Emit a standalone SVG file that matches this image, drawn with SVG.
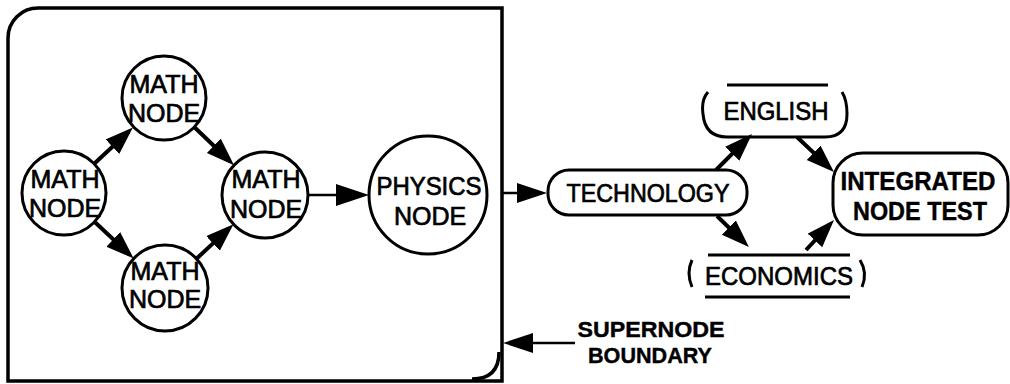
<svg xmlns="http://www.w3.org/2000/svg" width="1010" height="384" viewBox="0 0 1010 384">
  <style>
    .frame { fill: none; stroke: #000; stroke-width: 3.5; }
    .node { fill: #fff; stroke: #000; stroke-width: 3; }
    .open { fill: none; stroke: #000; stroke-width: 3; }
    .lbl { font-family: "Liberation Sans", Arial, Helvetica, sans-serif; font-size: 25px; fill: #000; stroke: #000; stroke-width: 0.7; text-anchor: middle; }
    .bold { font-weight: bold; stroke-width: 0.4; }
    .edge { fill: none; stroke: #000; stroke-width: 4; }
    .thin { fill: none; stroke: #000; stroke-width: 2.5; }
  </style>
  <defs>
    <marker id="head" markerUnits="userSpaceOnUse" markerWidth="30" markerHeight="22" refX="22" refY="10" orient="auto">
      <path d="M0,0 L28,10 L0,20 Z" fill="#000"/>
    </marker>
    <marker id="headLong" markerUnits="userSpaceOnUse" markerWidth="36" markerHeight="24" refX="27" refY="11" orient="auto">
      <path d="M0,0 L33,11 L0,22 Z" fill="#000"/>
    </marker>
    <marker id="headMid" markerUnits="userSpaceOnUse" markerWidth="32" markerHeight="22" refX="24" refY="10" orient="auto">
      <path d="M0,0 L30,10 L0,20 Z" fill="#000"/>
    </marker>
  </defs>

  <!-- supernode boundary frame -->
  <g id="supernode">
    <path class="frame" d="M8,381 L8,38 A30,30 0 0 1 38,8 L502,8 L502,381 Z"/>
    <path class="frame" d="M499,352 Q499,379 472,379"/>
  </g>

  <!-- connectors -->
  <g id="connectors">
    <path class="edge" d="M95,163 L128.5,131.7" marker-end="url(#head)"/>
    <path class="edge" d="M95.3,222.5 L129.3,254.4" marker-end="url(#head)"/>
    <path class="edge" d="M195,127.8 L229.7,161" marker-end="url(#head)"/>
    <path class="edge" d="M196.5,258.7 L229.1,228.4" marker-end="url(#head)"/>
    <path class="thin" d="M308,195 L363,195" marker-end="url(#headLong)"/>
    <path class="thin" d="M502,193 L541,193" marker-end="url(#headMid)"/>
    <path class="edge" d="M716,170 L747.8,138.2" marker-end="url(#head)"/>
    <path class="edge" d="M797,137 L829.6,167.9" marker-end="url(#head)"/>
    <path class="edge" d="M717,216 L744.6,242.9" marker-end="url(#head)"/>
    <path class="edge" d="M806,250 L829.9,224.4" marker-end="url(#head)"/>
    <path class="thin" d="M575,343 L509,343" marker-end="url(#headMid)"/>
  </g>

  <g id="math-left">
    <circle class="node" cx="64" cy="193" r="42"/>
    <text class="lbl" x="65" y="188">MATH</text>
    <text class="lbl" x="65" y="217">NODE</text>
  </g>
  <g id="math-top">
    <circle class="node" cx="164" cy="98" r="42"/>
    <text class="lbl" x="164" y="93">MATH</text>
    <text class="lbl" x="164" y="122">NODE</text>
  </g>
  <g id="math-bottom">
    <circle class="node" cx="165" cy="288" r="43"/>
    <text class="lbl" x="165" y="280">MATH</text>
    <text class="lbl" x="165" y="308">NODE</text>
  </g>
  <g id="math-right">
    <circle class="node" cx="265" cy="195" r="43"/>
    <text class="lbl" x="266" y="188">MATH</text>
    <text class="lbl" x="266" y="218">NODE</text>
  </g>
  <g id="physics">
    <circle class="node" cx="428" cy="195" r="59"/>
    <text class="lbl" x="429" y="195" textLength="105" lengthAdjust="spacingAndGlyphs">PHYSICS</text>
    <text class="lbl" x="430" y="225">NODE</text>
  </g>

  <g id="technology">
    <rect class="node" x="548" y="170" width="199" height="45" rx="21"/>
    <text class="lbl" x="648" y="202" textLength="163" lengthAdjust="spacingAndGlyphs">TECHNOLOGY</text>
  </g>
  <g id="english">
    <path class="open" d="M708,92 Q701,100 703,114 Q705,137 727,137 L825,137 Q847,137 847,114 Q847,100 842,92"/>
    <path class="open" d="M727,85 L828,85"/>
    <text class="lbl" x="776" y="120" textLength="105" lengthAdjust="spacingAndGlyphs">ENGLISH</text>
  </g>
  <g id="economics">
    <path class="open" d="M708,255 L850,255"/>
    <path class="open" d="M705,297 L850,297"/>
    <path class="open" d="M692,260 Q686,273 692,287"/>
    <path class="open" d="M860,260 Q868,273 862,287"/>
    <text class="lbl" x="779" y="285" textLength="148" lengthAdjust="spacingAndGlyphs">ECONOMICS</text>
  </g>
  <g id="integrated-test">
    <rect class="node" x="833" y="153" width="175" height="82" rx="30"/>
    <text class="lbl bold" x="918" y="190" textLength="155" lengthAdjust="spacingAndGlyphs">INTEGRATED</text>
    <text class="lbl bold" x="920" y="220" textLength="134" lengthAdjust="spacingAndGlyphs">NODE TEST</text>
  </g>

  <g id="supernode-label">
    <text class="lbl bold" x="651" y="337" style="font-size:22px" textLength="147" lengthAdjust="spacingAndGlyphs">SUPERNODE</text>
    <text class="lbl bold" x="650" y="363" style="font-size:22px" textLength="124" lengthAdjust="spacingAndGlyphs">BOUNDARY</text>
  </g>
</svg>
